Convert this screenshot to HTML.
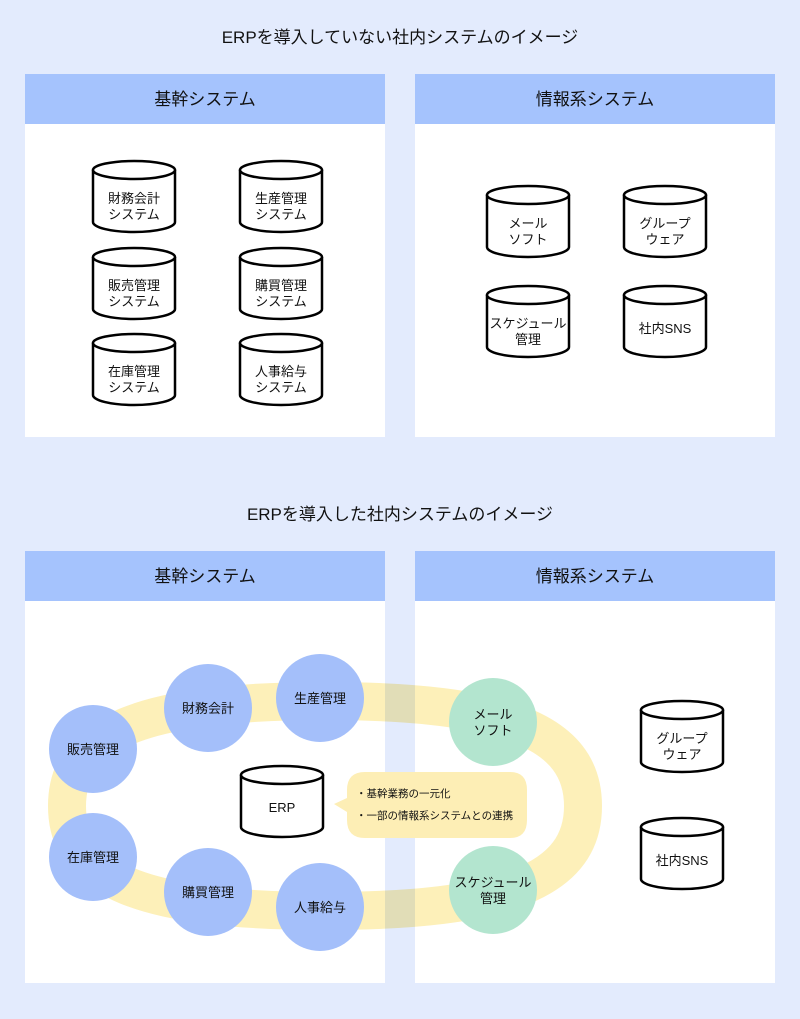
<!DOCTYPE html><html><head><meta charset="utf-8"><style>body{margin:0;background:#e3ebfd}svg{display:block}</style></head><body>
<svg width="800" height="1019" viewBox="0 0 800 1019" xmlns="http://www.w3.org/2000/svg" font-family="Liberation Sans, Noto Sans CJK JP, sans-serif">
<defs>
<g id="cyl"><path d="M1,10 V62 A41,10 0 0 0 83,62 V10" fill="#fff" stroke="#000" stroke-width="2.5"/><ellipse cx="42" cy="10" rx="41" ry="9" fill="#fff" stroke="#000" stroke-width="2.5"/></g>
</defs>
<rect width="800" height="1019" fill="#e3ebfd"/>
<g font-size="17" fill="#111" text-anchor="middle">
<text x="400" y="43">ERPを導入していない社内システムのイメージ</text>
<text x="400" y="520">ERPを導入した社内システムのイメージ</text>
</g>
<rect x="25" y="74" width="360" height="363" fill="#fff"/><rect x="25" y="74" width="360" height="50" fill="#a5c3fd"/>
<rect x="415" y="74" width="360" height="363" fill="#fff"/><rect x="415" y="74" width="360" height="50" fill="#a5c3fd"/>
<rect x="25" y="551" width="360" height="432" fill="#fff"/><rect x="25" y="551" width="360" height="50" fill="#a5c3fd"/>
<rect x="415" y="551" width="360" height="432" fill="#fff"/><rect x="415" y="551" width="360" height="50" fill="#a5c3fd"/>
<g font-size="17" fill="#111" text-anchor="middle">
<text x="205" y="105">基幹システム</text><text x="595" y="105">情報系システム</text>
<text x="205" y="582">基幹システム</text><text x="595" y="582">情報系システム</text>
</g>
<g font-size="13" fill="#111" text-anchor="middle">
<use href="#cyl" x="92" y="160"/><text x="134" y="203">財務会計</text><text x="134" y="219">システム</text>
<use href="#cyl" x="239" y="160"/><text x="281" y="203">生産管理</text><text x="281" y="219">システム</text>
<use href="#cyl" x="92" y="247"/><text x="134" y="290">販売管理</text><text x="134" y="306">システム</text>
<use href="#cyl" x="239" y="247"/><text x="281" y="290">購買管理</text><text x="281" y="306">システム</text>
<use href="#cyl" x="92" y="333"/><text x="134" y="376">在庫管理</text><text x="134" y="392">システム</text>
<use href="#cyl" x="239" y="333"/><text x="281" y="376">人事給与</text><text x="281" y="392">システム</text>
<use href="#cyl" x="486" y="185"/><text x="528" y="228">メール</text><text x="528" y="244">ソフト</text>
<use href="#cyl" x="623" y="185"/><text x="665" y="228">グループ</text><text x="665" y="244">ウェア</text>
<use href="#cyl" x="486" y="285"/><text x="528" y="328">スケジュール</text><text x="528" y="344">管理</text>
<use href="#cyl" x="623" y="285"/><text x="665" y="333">社内SNS</text>
<path d="M67,806 C67,732 144,701 325,701 C506,701 583,732 583,806 C583,880 506,911 325,911 C144,911 67,880 67,806Z" fill="none" stroke="#fdf0b9" stroke-width="38" style="mix-blend-mode:multiply"/>
<use href="#cyl" x="240" y="765"/><text x="282" y="812">ERP</text>
<use href="#cyl" x="640" y="700"/><text x="682" y="743">グループ</text><text x="682" y="759">ウェア</text>
<use href="#cyl" x="640" y="817"/><text x="682" y="865">社内SNS</text>
<path d="M347,790 Q347,772 365,772 H510 Q527,772 527,790 V820 Q527,838 510,838 H365 Q347,838 347,820 V812 L334,804 L347,798 Z" fill="#fdeeb5"/>
<g text-anchor="start" font-size="10.5"><text x="356" y="797">・基幹業務の一元化</text><text x="356" y="819">・一部の情報系システムとの連携</text></g>
<g fill="#a4bffa">
<circle cx="208" cy="708" r="44"/><circle cx="320" cy="698" r="44"/><circle cx="93" cy="749" r="44"/>
<circle cx="93" cy="857" r="44"/><circle cx="208" cy="892" r="44"/><circle cx="320" cy="907" r="44"/>
</g>
<circle cx="493" cy="722" r="44" fill="#b3e5cf"/><circle cx="493" cy="890" r="44" fill="#b3e5cf"/>
<text x="208" y="713">財務会計</text><text x="320" y="703">生産管理</text><text x="93" y="754">販売管理</text>
<text x="93" y="862">在庫管理</text><text x="208" y="897">購買管理</text><text x="320" y="912">人事給与</text>
<text x="493" y="719">メール</text><text x="493" y="735">ソフト</text>
<text x="493" y="887">スケジュール</text><text x="493" y="903">管理</text>
</g>
</svg>
</body></html>
